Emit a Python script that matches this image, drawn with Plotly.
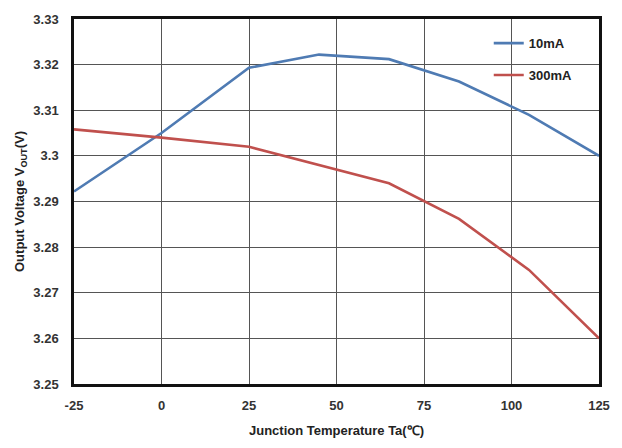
import plotly.graph_objects as go

temps = [-25, 0, 25, 45, 65, 85, 105, 125]
v_10mA = [3.2922, 3.3050, 3.3193, 3.3222, 3.3212, 3.3163, 3.3090, 3.3000]
v_300mA = [3.3058, 3.3040, 3.3020, 3.2980, 3.2940, 3.2862, 3.2750, 3.2600]
x_ticks = [-25, 0, 25, 50, 75, 100, 125]
y_ticks = [3.25, 3.26, 3.27, 3.28, 3.29, 3.3, 3.31, 3.32, 3.33]
y_labels = ["3.25", "3.26", "3.27", "3.28", "3.29", "3.3", "3.31", "3.32", "3.33"]

fig = go.Figure()
fig.add_trace(go.Scatter(x=temps, y=v_10mA, mode="lines", name="10mA",
                         legendgroup="a",
                         line=dict(color="#4f7bb3", width=2.6)))
fig.add_trace(go.Scatter(x=temps, y=v_300mA, mode="lines", name="300mA",
                         legendgroup="b",
                         line=dict(color="#c0504d", width=2.6)))

font = dict(family="Arial, Liberation Sans, sans-serif", size=12, color="#222")
fig.update_layout(
    width=622, height=448,
    margin=dict(l=74, r=18, t=14, b=61),
    paper_bgcolor="white", plot_bgcolor="white",
    font=font,
    showlegend=True,
    legend=dict(x=0.79, y=0.975, xanchor="left", yanchor="top",
                bgcolor="rgba(0,0,0,0)", tracegroupgap=12, itemwidth=30,
                font=dict(family="Arial, Liberation Sans, sans-serif", size=13, color="#222", weight="bold")),
    xaxis=dict(range=[-25, 125], tickvals=x_ticks, ticktext=[str(v) for v in x_ticks],
               showgrid=True, gridcolor="#555", gridwidth=1,
               showline=True, linecolor="#111", linewidth=2.5, mirror=True,
               ticks="", zeroline=False, ticklabelstandoff=8,
               tickfont=dict(size=13, weight="bold", color="#333"),
               title=dict(text="Junction Temperature Ta(℃)", standoff=14,
                          font=dict(size=13, weight="bold", color="#222"))),
    yaxis=dict(range=[3.25, 3.33], tickvals=y_ticks, ticktext=y_labels,
               showgrid=True, gridcolor="#555", gridwidth=1,
               showline=True, linecolor="#111", linewidth=2.5, mirror=True,
               ticks="", zeroline=False, ticklabelstandoff=10,
               tickfont=dict(size=13, weight="bold", color="#333"),
               title=dict(text="Output Voltage V<sub>OUT</sub>(V)", standoff=6,
                          font=dict(size=13, weight="bold", color="#222"))),
)

fig.write_html("out.html")
